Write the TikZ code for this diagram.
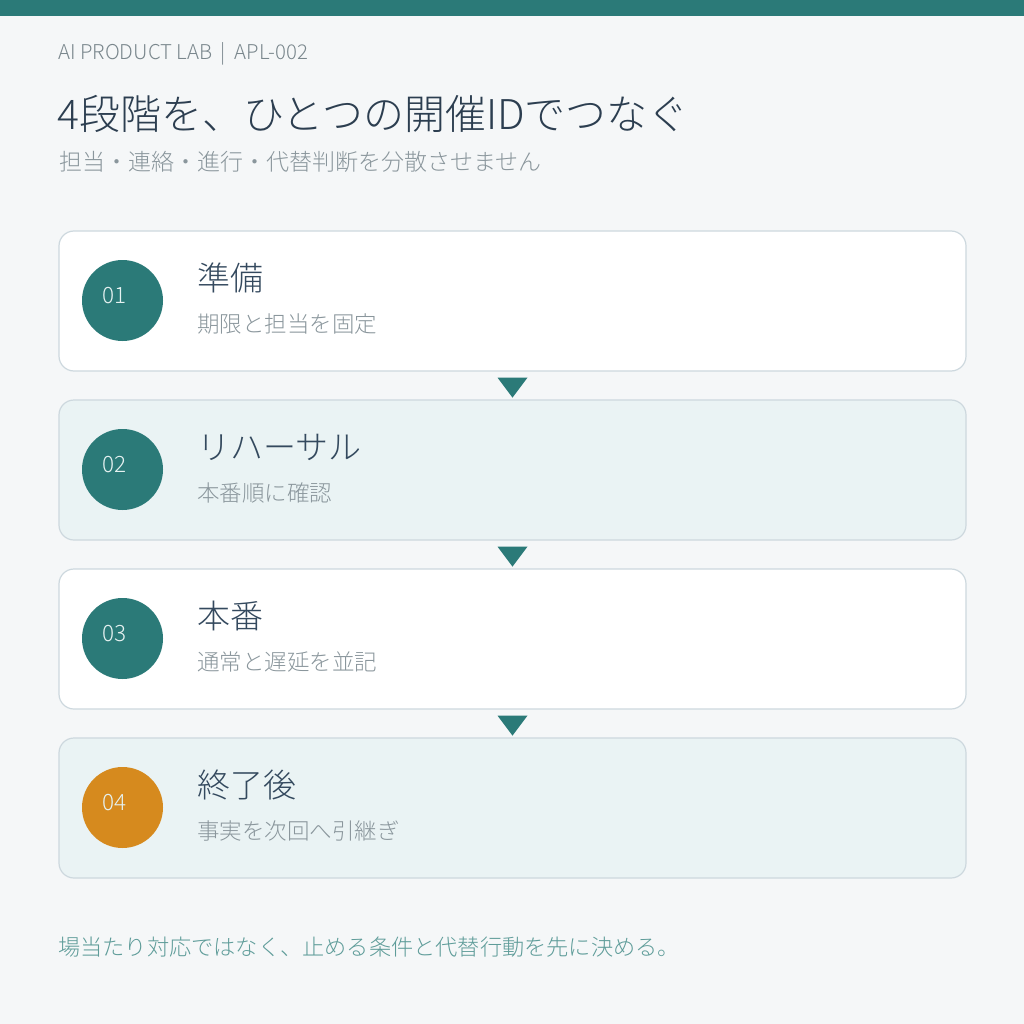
\documentclass[tikz,border=0pt]{standalone}
\usepackage{fontspec}
\setmainfont{Noto Sans CJK JP}[UprightFont=* Light]
\definecolor{bg}{HTML}{F5F7F8}
\definecolor{teal}{HTML}{2B7A78}
\definecolor{cardline}{HTML}{CDD8DE}
\definecolor{cardalt}{HTML}{EAF3F4}
\definecolor{titlec}{HTML}{2C3E50}
\definecolor{steptc}{HTML}{34495E}
\definecolor{grayt}{HTML}{8A969C}
\definecolor{headt}{HTML}{7A878D}
\definecolor{foot}{HTML}{5E9C99}
\definecolor{orange}{HTML}{D68A1E}
\definecolor{numc}{HTML}{E6F2F1}
\tikzset{
  card/.style={draw=cardline, line width=1.2pt, rounded corners=15pt, minimum width=907pt, minimum height=140pt, inner sep=0pt},
  badge/.style={circle, minimum size=81pt, inner sep=0pt},
  numtxt/.style={anchor=base west, inner sep=0pt, text=numc, font=\fontsize{22.5}{22.5}\selectfont},
  steptitle/.style={anchor=base west, inner sep=0pt, text=steptc, font=\fontsize{33}{33}\selectfont},
  stepsub/.style={anchor=base west, inner sep=0pt, text=grayt, font=\fontsize{22.5}{22.5}\selectfont},
  tri/.style={fill=teal},
}
\begin{document}
\begin{tikzpicture}[x=1pt,y=-1pt]
\fill[bg] (0,0) rectangle (1024,1024);
\useasboundingbox (0,0) rectangle (1024,1024);
\fill[teal] (0,0) rectangle (1024,16);
\node[anchor=base west, inner sep=0pt, text=headt, font=\fontsize{20.4}{20.4}\selectfont] (hdr) at (58,60) {AI PRODUCT LAB\hspace{8pt}|\hspace{9pt}APL-002};
\node[anchor=base west, inner sep=0pt, text=titlec, font=\fontsize{41}{41}\selectfont] (ttl) at (57,130) {4段階を、ひとつの開催IDでつなぐ};
\node[anchor=base west, inner sep=0pt, text=grayt, font=\fontsize{23}{23}\selectfont] (sub) at (59,171) {担当・連絡・進行・代替判断を分散させません};
% cards
\node[card, fill=white] (c1) at (512.5,301) {};
\node[card, fill=cardalt] (c2) at (512.5,470) {};
\node[card, fill=white] (c3) at (512.5,639) {};
\node[card, fill=cardalt] (c4) at (512.5,808) {};
% badges
\node[badge, fill=teal] (b1) at (122.5,300.5) {};
\node[badge, fill=teal] (b2) at (122.5,469.5) {};
\node[badge, fill=teal] (b3) at (122.5,638.5) {};
\node[badge, fill=orange] (b4) at (122.5,807.5) {};
\node[numtxt] (n1) at (102,303) {01};
\node[numtxt] (n2) at (102,472) {02};
\node[numtxt] (n3) at (102,641) {03};
\node[numtxt] (n4) at (102,810) {04};
% step texts
\node[steptitle] (t1) at (197,290) {準備};
\node[stepsub] (s1) at (197,332) {期限と担当を固定};
\node[steptitle] (t2) at (197,459) {リハーサル};
\node[stepsub] (s2) at (197,501) {本番順に確認};
\node[steptitle] (t3) at (197,628) {本番};
\node[stepsub] (s3) at (197,670) {通常と遅延を並記};
\node[steptitle] (t4) at (197,797) {終了後};
\node[stepsub] (s4) at (197,839) {事実を次回へ引継ぎ};
% arrows between cards
\fill[tri] ([xshift=-15pt,yshift=-6pt]c1.south) -- ([xshift=15pt,yshift=-6pt]c1.south) -- ([yshift=-26pt]c1.south) -- cycle;
\fill[tri] ([xshift=-15pt,yshift=-6pt]c2.south) -- ([xshift=15pt,yshift=-6pt]c2.south) -- ([yshift=-26pt]c2.south) -- cycle;
\fill[tri] ([xshift=-15pt,yshift=-6pt]c3.south) -- ([xshift=15pt,yshift=-6pt]c3.south) -- ([yshift=-26pt]c3.south) -- cycle;
% footer
\node[anchor=base west, inner sep=0pt, text=foot, font=\fontsize{22.2}{22.2}\selectfont] (ft) at (58,955) {場当たり対応ではなく、止める条件と代替行動を先に決める。};
\end{tikzpicture}
\end{document}
